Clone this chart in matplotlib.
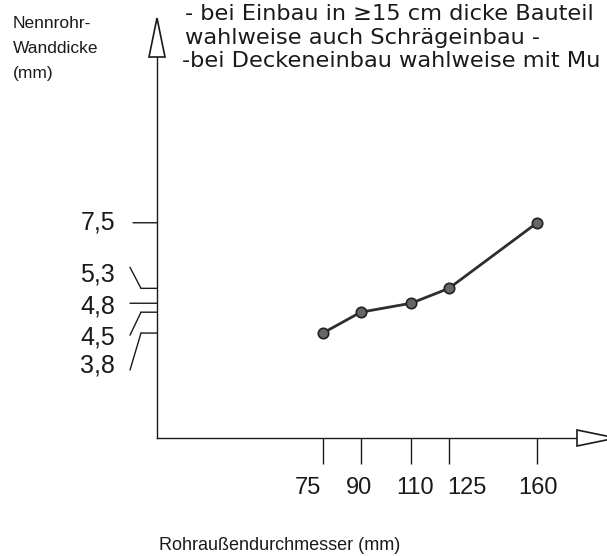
import matplotlib
matplotlib.use("Agg")
import matplotlib.pyplot as plt
import matplotlib.transforms as mtransforms
from matplotlib.patches import Polygon

plt.rcParams["font.family"] = ["Liberation Sans", "DejaVu Sans"]

# Data
diameters  = [75, 90, 110, 125, 160]          # Rohraußendurchmesser (mm)
wall_thick = [3.8, 4.5, 4.8, 5.3, 7.5]        # Nennrohr-Wanddicke (mm)
x_labels   = ["75", "90", "110", "125", "160"]
y_labels   = ["3,8", "4,5", "4,8", "5,3", "7,5"]

# the note lines run off the right edge in the original; keep what is visible
notes = [
    "- bei Einbau in \u226515 cm dicke Bauteil",
    "wahlweise auch Schrägeinbau -",
    "-bei Deckeneinbau wahlweise mit Mu",
]
y_title = ["Nennrohr-", "Wanddicke", "(mm)"]
x_title = "Rohraußendurchmesser (mm)"

W, H = 607, 556
INK = "#1a1a1a"

fig = plt.figure(figsize=(W / 100, H / 100), dpi=100)
ax = fig.add_axes([157 / W, (H - 438) / H, (577 - 157) / W, (438 - 57) / H])
ax.set_xlim(9.2, 175.8)
ax.set_ylim(0.28, 13.06)

for side in ["top", "right"]:
    ax.spines[side].set_visible(False)
for side in ["left", "bottom"]:
    ax.spines[side].set_color(INK)
    ax.spines[side].set_linewidth(1.0)

# data line
ax.plot(diameters, wall_thick, color="#2e2e2e", linewidth=2.0, marker="o",
        markersize=7.5, markerfacecolor="#666666", markeredgecolor="#222222",
        markeredgewidth=1.2, zorder=3)

# x ticks hang below the axis
ax.set_xticks(diameters)
ax.set_xticklabels(x_labels, fontsize=17, color=INK)
ax.tick_params(axis="x", direction="out", length=19, width=1.0, color=INK, pad=9)
nudges = [-15, -2, 4, 18, 1]
for lbl, dx in zip(ax.get_xticklabels(), nudges):
    lbl.set_transform(lbl.get_transform() +
                      mtransforms.ScaledTranslation(dx / 100, 0, fig.dpi_scale_trans))

# y axis: leader lines drawn by hand, labels spread apart
ax.set_yticks([])
x0 = ax.get_xlim()[0]


def off(dx, dy):
    return ax.transData + mtransforms.ScaledTranslation(dx / 100, dy / 100,
                                                        fig.dpi_scale_trans)


# leader vertices (pixel offsets from the value on the axis), label offset
leaders = {
    7.5: ([(-24, 0), (0, 0)], 0),
    5.3: ([(-27, 21), (-16, 0), (0, 0)], 14),
    4.8: ([(-27, 0), (0, 0)], -3),
    4.5: ([(-27, -23), (-16, 0), (0, 0)], -25),
    3.8: ([(-27, -37), (-16, 0), (0, 0)], -32),
}
for v, lab in zip(wall_thick, y_labels):
    pts, label_dy = leaders[v]
    for (dxa, dya), (dxb, dyb) in zip(pts[:-1], pts[1:]):
        ax.annotate("", xy=(x0, v), xytext=(x0, v),
                    xycoords=off(dxb, dyb), textcoords=off(dxa, dya),
                    arrowprops=dict(arrowstyle="-", color=INK, lw=1.0,
                                    shrinkA=0, shrinkB=0))
    ax.text(x0, v, lab, transform=off(-42, label_dy), ha="right", va="center",
            fontsize=18, color=INK)

# open arrow heads at the axis ends
px = mtransforms.Affine2D().scale(0.01) + fig.dpi_scale_trans
up = px + mtransforms.ScaledTranslation(0, 1, ax.transAxes)
right = px + mtransforms.ScaledTranslation(1, 0, ax.transAxes)
fig.patches.append(Polygon([(-8, 0), (8, 0), (0, 39)], closed=True,
                           facecolor="white", edgecolor=INK, lw=1.2,
                           transform=up))
fig.patches.append(Polygon([(0, -8), (0, 8), (39, 0)], closed=True,
                           facecolor="white", edgecolor=INK, lw=1.2,
                           transform=right))

# texts
for line, x, base in zip(notes, [185, 185, 182], [20, 44, 67]):
    fig.text(x / W, 1 - base / H, line, fontsize=16.2, color=INK,
             family=["DejaVu Sans"], va="baseline", ha="left")
for i, line in enumerate(y_title):
    fig.text(13 / W, 1 - (28 + 25 * i) / H, line, fontsize=12.5, color=INK,
             va="baseline", ha="left")
fig.text(159 / W, 1 - 550 / H, x_title, fontsize=13, color=INK,
         va="baseline", ha="left")

fig.savefig("out.png", dpi=100)
